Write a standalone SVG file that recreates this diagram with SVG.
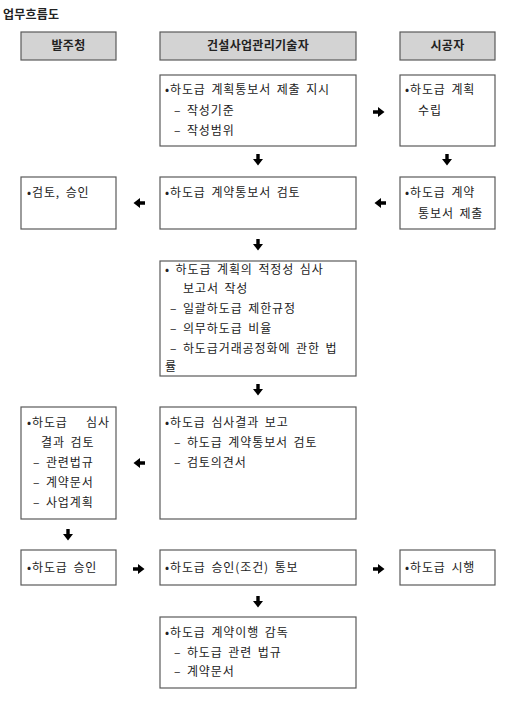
<svg xmlns="http://www.w3.org/2000/svg" width="517" height="706" viewBox="0 0 517 706">
<style>
.hd{fill:#d3d3d3;stroke:#5a5a5a;stroke-width:1.2}
.bx{fill:#ffffff;stroke:#5a5a5a;stroke-width:1.2}
text{font-family:"Noto Sans CJK KR","Noto Sans",sans-serif;font-size:12px;fill:#222;letter-spacing:0.9px;word-spacing:2px}
.ht{font-weight:bold;text-anchor:middle;letter-spacing:0.3px}
.tt{font-weight:bold;letter-spacing:0.2px}
.ar{fill:#000}
</style>
<defs>
<path id="ad" d="M-1.7,-6 H1.7 V-1 H5 L0,5.5 L-5,-1 H-1.7 Z"/>
</defs>
<rect width="517" height="706" fill="#fff"/>
<text class="tt" x="3" y="19">업무흐름도</text>

<g id="h1"><rect class="hd" x="21" y="32" width="95" height="28"/><text class="ht" x="68.5" y="50">발주청</text></g>
<g id="h2"><rect class="hd" x="160" y="32" width="196" height="28"/><text class="ht" x="258" y="50">건설사업관리기술자</text></g>
<g id="h3"><rect class="hd" x="400" y="32" width="95" height="28"/><text class="ht" x="447.5" y="50">시공자</text></g>

<g id="nA"><rect class="bx" x="160" y="75" width="196" height="71"/>
<text x="165" y="94">•하도급 계획통보서 제출 지시</text>
<text x="174" y="115">– 작성기준</text>
<text x="174" y="135">– 작성범위</text></g>

<g id="nB"><rect class="bx" x="400" y="75" width="95" height="71"/>
<text x="405" y="94">•하도급 계획</text>
<text x="418" y="115">수립</text></g>

<g id="nC"><rect class="bx" x="21" y="177" width="95" height="52"/>
<text x="27" y="197">•검토, 승인</text></g>

<g id="nD"><rect class="bx" x="160" y="177" width="196" height="52"/>
<text x="165" y="197">•하도급 계약통보서 검토</text></g>

<g id="nE"><rect class="bx" x="400" y="177" width="95" height="52"/>
<text x="405" y="197">•하도급 계약</text>
<text x="418" y="218">통보서 제출</text></g>

<g id="nF"><rect class="bx" x="160" y="261" width="196" height="115"/>
<text x="165" y="274">• 하도급 계획의 적정성 심사</text>
<text x="183" y="293">보고서 작성</text>
<text x="170" y="313">– 일괄하도급 제한규정</text>
<text x="170" y="333">– 의무하도급 비율</text>
<text x="170" y="353">–  하도급거래공정화에 관한 법</text>
<text x="165" y="371">률</text></g>

<g id="nG"><rect class="bx" x="21" y="407" width="95" height="112"/>
<text x="27" y="427">•하도급<tspan x="86">심사</tspan></text>
<text x="41" y="447">결과 검토</text>
<text x="33" y="467">– 관련법규</text>
<text x="33" y="487">– 계약문서</text>
<text x="33" y="507">– 사업계획</text></g>

<g id="nH"><rect class="bx" x="160" y="407" width="196" height="112"/>
<text x="165" y="427">•하도급 심사결과 보고</text>
<text x="174" y="447">– 하도급 계약통보서 검토</text>
<text x="174" y="467">– 검토의견서</text></g>

<g id="nI"><rect class="bx" x="21" y="550" width="95" height="35"/>
<text x="27" y="572">•하도급 승인</text></g>

<g id="nJ"><rect class="bx" x="160" y="550" width="196" height="35"/>
<text x="165" y="572">•하도급 승인(조건) 통보</text></g>

<g id="nK"><rect class="bx" x="400" y="550" width="95" height="35"/>
<text x="405" y="572">•하도급 시행</text></g>

<g id="nL"><rect class="bx" x="160" y="617" width="196" height="71"/>
<text x="165" y="637">•하도급 계약이행 감독</text>
<text x="174" y="657">– 하도급 관련 법규</text>
<text x="174" y="676">– 계약문서</text></g>

<g id="connectors" class="ar">
<use href="#ad" transform="translate(379,112) rotate(-90)"/>
<use href="#ad" transform="translate(258,160)"/>
<use href="#ad" transform="translate(447,160)"/>
<use href="#ad" transform="translate(139,203) rotate(90)"/>
<use href="#ad" transform="translate(380,203) rotate(90)"/>
<use href="#ad" transform="translate(258,245)"/>
<use href="#ad" transform="translate(258,390)"/>
<use href="#ad" transform="translate(139,463) rotate(90)"/>
<use href="#ad" transform="translate(68,535)"/>
<use href="#ad" transform="translate(139,569) rotate(-90)"/>
<use href="#ad" transform="translate(379,569) rotate(-90)"/>
<use href="#ad" transform="translate(258,602)"/>
</g>
</svg>
